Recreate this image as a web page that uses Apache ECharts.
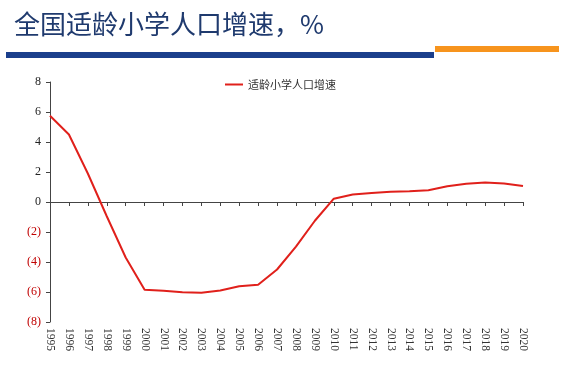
<!DOCTYPE html>
<html>
<head>
<meta charset="utf-8">
<script src="https://cdn.jsdelivr.net/npm/echarts@6/dist/echarts.min.js"></script>
<style>
  html,body{margin:0;padding:0;background:#fff;}
  #main{width:570px;height:377px;}
</style>
</head>
<body>
<div id="main"></div>
<script>
  // 年份
  var years = ['1995','1996','1997','1998','1999','2000','2001','2002','2003','2004','2005','2006','2007',
    '2008','2009','2010','2011','2012','2013','2014','2015','2016','2017','2018','2019','2020'];
  // 适龄小学人口增速, %
  var growth = [5.75, 4.5, 1.9, -0.95, -3.7, -5.85, -5.92, -6.02, -6.05, -5.9, -5.62, -5.52, -4.5,
    -2.98, -1.25, 0.22, 0.5, 0.6, 0.68, 0.72, 0.78, 1.05, 1.22, 1.3, 1.24, 1.06];
  var yTicks = {min: -8, max: 8, interval: 2};

  var myChart = echarts.init(document.getElementById('main'));
  myChart.setOption({
    animation: false,
    graphic: [
      {type: 'text', left: 14, top: 11, style: {text: '全国适龄小学人口增速，%', fill: '#1f3a6e',
        font: '26px "Noto Sans CJK SC"'}},
      {type: 'rect', shape: {x: 6, y: 52, width: 428, height: 6}, style: {fill: '#1b3f8c'}},
      {type: 'rect', shape: {x: 435, y: 46, width: 124, height: 6}, style: {fill: '#f7941d'}}
    ],
    legend: {
      left: 220, top: 74,
      icon: 'rect',
      itemWidth: 18, itemHeight: 2, itemGap: 4,
      textStyle: {fontSize: 11, color: '#333', fontFamily: '"Noto Sans CJK SC"'},
      data: ['适龄小学人口增速']
    },
    grid: {left: 50, right: 47, top: 82, bottom: 55, outerBoundsMode: 'none', containLabel: false},
    xAxis: [{
      // 零轴：轴线和刻度
      type: 'category',
      position: 'bottom',
      boundaryGap: false,
      data: years,
      axisLine: {onZero: true, lineStyle: {color: '#444', width: 1}},
      axisTick: {show: true, interval: 0, length: 4, lineStyle: {color: '#444'}},
      axisLabel: {show: false}
    }, {
      // 底部年份标签
      type: 'category',
      position: 'bottom',
      boundaryGap: false,
      data: years,
      axisLine: {show: false, onZero: false},
      axisTick: {show: false},
      axisLabel: {interval: 0, rotate: -90, margin: 6, fontSize: 11.5, color: '#333',
        fontFamily: '"Liberation Serif"'}
    }],
    yAxis: {
      type: 'value',
      min: yTicks.min, max: yTicks.max, interval: yTicks.interval,
      splitLine: {show: false},
      axisLine: {show: true, lineStyle: {color: '#444'}},
      axisTick: {show: true, length: 4, lineStyle: {color: '#444'}},
      axisLabel: {
        margin: 9,
        formatter: function (v) {
          return v < 0 ? '{n|(' + (-v) + ')}' : '{p|' + v + '}';
        },
        rich: {
          n: {color: '#c00000', fontSize: 12, fontFamily: '"Liberation Serif"'},
          p: {color: '#222', fontSize: 12, fontFamily: '"Liberation Serif"'}
        }
      }
    },
    series: [{
      name: '适龄小学人口增速',
      type: 'line',
      xAxisIndex: 0,
      symbol: 'none',
      data: growth,
      lineStyle: {color: '#e0201b', width: 2},
      itemStyle: {color: '#e0201b'}
    }]
  });
</script>
</body>
</html>
